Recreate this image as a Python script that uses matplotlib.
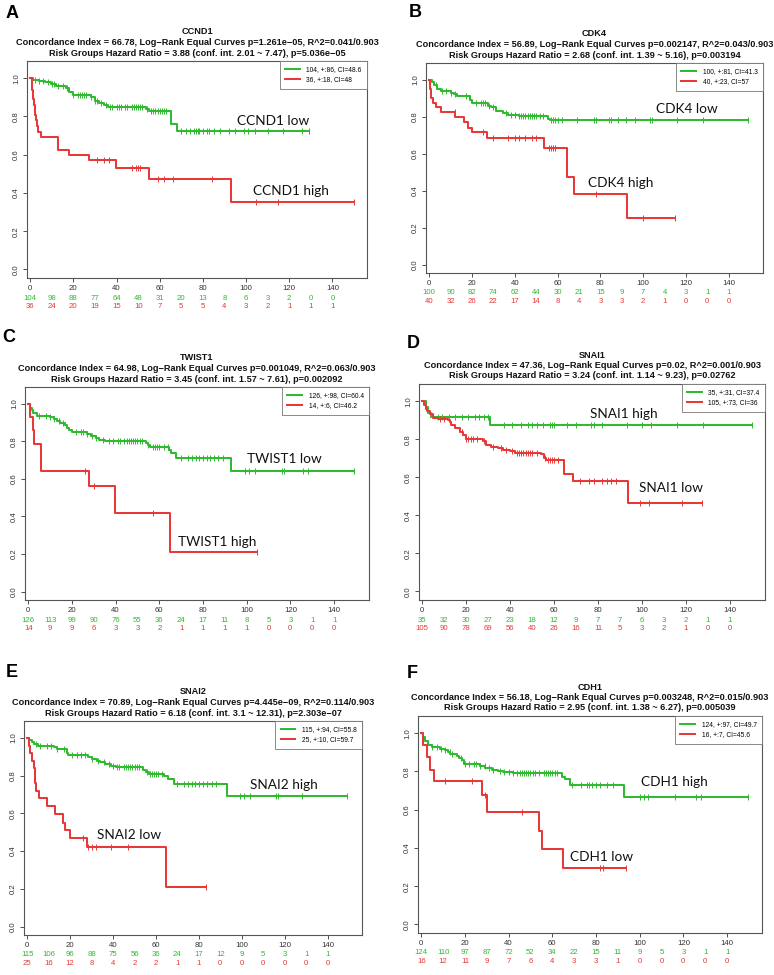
import matplotlib
matplotlib.use("Agg")
import matplotlib.pyplot as plt
import numpy as np

plt.rcParams['font.family'] = ['Liberation Sans', 'DejaVu Sans']

W, H = 774, 975
GREEN = '#2fba2f'
RED = '#e83838'

# ---- data ----
genes = ['CCND1', 'CDK4', 'TWIST1', 'SNAI1', 'SNAI2', 'CDH1']
panel_letters = ['A', 'B', 'C', 'D', 'E', 'F']

stat_lines = [
    ('Concordance Index = 66.78, Log\u2212Rank Equal Curves p=1.261e\u221205, R^2=0.041/0.903',
     'Risk Groups Hazard Ratio = 3.88 (conf. int. 2.01 ~ 7.47), p=5.036e\u221205'),
    ('Concordance Index = 56.89, Log\u2212Rank Equal Curves p=0.002147, R^2=0.043/0.903',
     'Risk Groups Hazard Ratio = 2.68 (conf. int. 1.39 ~ 5.16), p=0.003194'),
    ('Concordance Index = 64.98, Log\u2212Rank Equal Curves p=0.001049, R^2=0.063/0.903',
     'Risk Groups Hazard Ratio = 3.45 (conf. int. 1.57 ~ 7.61), p=0.002092'),
    ('Concordance Index = 47.36, Log\u2212Rank Equal Curves p=0.02, R^2=0.001/0.903',
     'Risk Groups Hazard Ratio = 3.24 (conf. int. 1.14 ~ 9.23), p=0.02762'),
    ('Concordance Index = 70.89, Log\u2212Rank Equal Curves p=4.445e\u221209, R^2=0.114/0.903',
     'Risk Groups Hazard Ratio = 6.18 (conf. int. 3.1 ~ 12.31), p=2.303e\u221207'),
    ('Concordance Index = 56.18, Log\u2212Rank Equal Curves p=0.003248, R^2=0.015/0.903',
     'Risk Groups Hazard Ratio = 2.95 (conf. int. 1.38 ~ 6.27), p=0.005039'),
]

legend_green = ['104, +:86, CI=48.6', '100, +:81, CI=41.3', '126, +:98, CI=60.4',
                '35, +:31, CI=37.4', '115, +:94, CI=55.8', '124, +:97, CI=49.7']
legend_red = ['36, +:18, CI=48', '40, +:23, CI=57', '14, +:6, CI=46.2',
              '105, +:73, CI=36', '25, +:10, CI=59.7', '16, +:7, CI=45.6']

green_labels = ['CCND1 low', 'CDK4 low', 'TWIST1 low', 'SNAI1 high', 'SNAI2 high', 'CDH1 high']
red_labels = ['CCND1 high', 'CDK4 high', 'TWIST1 high', 'SNAI1 low', 'SNAI2 low', 'CDH1 low']

risk_times = [0, 10, 20, 30, 40, 50, 60, 70, 80, 90, 100, 110, 120, 130, 140]
risk_green = [
    [104, 98, 88, 77, 64, 48, 31, 20, 13, 8, 6, 3, 2, 0, 0],
    [100, 90, 82, 74, 62, 44, 30, 21, 15, 9, 7, 4, 3, 1, 1],
    [126, 113, 99, 90, 76, 55, 36, 24, 17, 11, 8, 5, 3, 1, 1],
    [35, 32, 30, 27, 23, 18, 12, 9, 7, 7, 6, 3, 2, 1, 1],
    [115, 106, 96, 88, 75, 56, 36, 24, 17, 12, 9, 5, 3, 1, 1],
    [124, 110, 97, 87, 72, 52, 34, 22, 15, 11, 9, 5, 3, 1, 1],
]
risk_red = [
    [36, 24, 20, 19, 15, 10, 7, 5, 5, 4, 3, 2, 1, 1, 1],
    [40, 32, 26, 22, 17, 14, 8, 4, 3, 3, 2, 1, 0, 0, 0],
    [14, 9, 9, 6, 3, 3, 2, 1, 1, 1, 1, 0, 0, 0, 0],
    [105, 90, 78, 69, 56, 40, 26, 16, 11, 5, 3, 2, 1, 0, 0],
    [25, 16, 12, 8, 4, 2, 2, 1, 1, 0, 0, 0, 0, 0, 0],
    [16, 12, 11, 9, 7, 6, 4, 3, 3, 1, 0, 0, 0, 0, 0],
]

# survival curves: event times, survival after each event, censor times
a_green_t = [1.5, 4, 7, 9.6, 12, 16.5, 18, 19.6, 28, 30, 32, 34, 36, 53.5, 55, 65, 68]
a_green_s = [0.99, 0.985, 0.98, 0.97, 0.96, 0.95, 0.93, 0.91, 0.90, 0.88, 0.87, 0.86, 0.85, 0.84, 0.83, 0.76, 0.725]
a_green_c = [2, 4, 6, 8, 10, 11, 13, 15, 17, 20, 22, 23, 24, 25, 26, 28, 30, 31, 33, 35, 37, 38, 40, 41, 42, 44,
             45, 47, 48, 49, 50, 51, 52, 54, 56, 57, 58, 59, 60, 61, 62, 63, 70, 72, 74, 76, 77, 77.5, 78, 80, 82,
             83, 85, 88, 92, 95, 99, 101, 104, 110, 117, 126, 129]
a_red_t = [0.6, 1, 1.4, 1.9, 2.3, 2.6, 3.1, 3.7, 5, 12.7, 18, 27.3, 39.7, 55, 93]
a_red_s = [0.97, 0.94, 0.89, 0.86, 0.81, 0.78, 0.75, 0.72, 0.69, 0.625, 0.60, 0.57, 0.53, 0.475, 0.355]
a_red_c = [31, 34, 36.6, 47, 49, 50, 51, 59, 62, 66, 84, 104.5, 115, 150]

b_green_t = [1.5, 2.3, 3.5, 5.4, 10, 11.5, 13, 19, 20, 27.5, 29, 31.4, 34.4, 36.7, 42, 55.5, 56.3]
b_green_s = [0.99, 0.97, 0.95, 0.94, 0.93, 0.92, 0.91, 0.89, 0.875, 0.86, 0.85, 0.83, 0.82, 0.81, 0.805, 0.79, 0.78]
b_green_c = [3, 6, 8, 10, 12, 17, 22, 24, 25, 26, 28, 30, 36, 38, 40, 42, 43, 44, 45, 46, 47, 48, 49, 50, 52, 53,
             57, 58, 59, 60, 62, 69, 77, 78, 84, 85, 88, 92, 96, 103, 104, 116, 128, 149]
b_red_t = [0.5, 1, 1.8, 3.4, 5.4, 12.2, 16.4, 18, 20, 26.8, 53.5, 64.3, 67.8, 92.6]
b_red_s = [0.95, 0.90, 0.875, 0.85, 0.825, 0.80, 0.77, 0.74, 0.715, 0.685, 0.63, 0.475, 0.38, 0.25]
b_red_c = [12, 25, 30, 37, 40, 42, 45, 48, 50, 56, 57, 58, 59, 78, 100, 115]

c_green_t = [1, 1.5, 2.3, 3.9, 10, 11.6, 13.2, 14.7, 17, 17.8, 18.6, 20, 27, 28.7, 31, 32.5, 35, 54, 55, 55.8,
             64.3, 65.4, 67.8, 92.7]
c_green_s = [0.98, 0.97, 0.95, 0.935, 0.93, 0.92, 0.91, 0.90, 0.89, 0.87, 0.86, 0.85, 0.84, 0.83, 0.82, 0.81,
             0.80, 0.79, 0.78, 0.77, 0.755, 0.74, 0.71, 0.645]
c_green_c = [5, 8, 10, 12, 14, 16, 22, 24, 25, 27, 29, 31, 34, 37, 39, 41, 42, 44, 45, 46, 47, 48, 49, 50, 51, 52,
             55, 57, 58, 59, 60, 62, 64, 70, 73, 75, 77, 78, 80, 82, 83, 85, 87, 89, 99, 101, 104, 116, 117, 126,
             128, 149]
c_red_t = [1, 2.2, 2.6, 5.7, 27.6, 39.5, 64.8]
c_red_s = [0.93, 0.86, 0.785, 0.64, 0.565, 0.42, 0.21]
c_red_c = [26, 30, 57, 104.6]

d_green_t = [1.5, 2.6, 3.8, 30.6]
d_green_s = [0.97, 0.94, 0.915, 0.875]
d_green_c = [7, 9, 12, 15, 18, 21, 24, 26, 28, 30, 37, 41, 45, 48, 50, 52, 55, 58, 59, 60, 66, 70, 77, 78, 82,
             93, 100, 104, 116, 128, 150]
d_red_t = [0.6, 1.5, 2.1, 3.3, 4.8, 7, 11.7, 12.4, 13.2, 14.7, 17.3, 18.5, 19.7, 27.6, 29, 31.4, 34.4, 36.7,
           39.7, 42.4, 54, 55.3, 56.4, 64.7, 68.5, 93.8]
d_red_s = [0.98, 0.96, 0.95, 0.93, 0.91, 0.905, 0.90, 0.89, 0.875, 0.86, 0.84, 0.82, 0.80, 0.79, 0.77, 0.76,
           0.755, 0.745, 0.74, 0.73, 0.72, 0.70, 0.69, 0.615, 0.58, 0.465]
d_red_c = [8, 10, 18, 20, 21, 22, 23, 25, 28, 32, 36, 38, 41, 43, 44, 45, 46, 47, 48, 49, 50, 52, 56, 57, 58, 59,
           60, 62, 72, 76, 78, 82, 84, 86, 88, 99, 103, 118, 127.5]

e_green_t = [0.8, 2, 3, 5, 12.3, 13.8, 18.5, 19.2, 28.5, 30, 32.3, 33.8, 36.2, 39.2, 41.5, 53.8, 55.4, 56.9,
             63.8, 65.4, 68.5, 93]
e_green_s = [0.99, 0.98, 0.97, 0.96, 0.95, 0.94, 0.92, 0.91, 0.90, 0.89, 0.88, 0.87, 0.86, 0.85, 0.845, 0.83,
             0.82, 0.81, 0.80, 0.78, 0.755, 0.69]
e_green_c = [4, 6, 9, 11, 14, 17, 21, 23, 25, 27, 30, 33, 36, 38, 40, 42, 43, 45, 46, 47, 48, 49, 50, 51, 52, 56,
             57, 58, 59, 60, 61, 63, 70, 73, 75, 77, 78, 80, 82, 84, 86, 88, 99, 101, 104, 116, 117, 128, 149]
e_red_t = [0.8, 1.5, 2.3, 3.1, 3.4, 3.8, 4.2, 5.7, 9.2, 13, 16.6, 17.7, 20, 28, 64.6]
e_red_s = [0.96, 0.92, 0.88, 0.84, 0.80, 0.76, 0.72, 0.68, 0.64, 0.595, 0.55, 0.51, 0.47, 0.42, 0.21]
e_red_c = [26, 28.5, 30, 32, 39, 47, 83.4]

f_green_t = [1, 1.8, 3, 4.9, 8.7, 11, 12.1, 13.2, 16.2, 17.3, 18.5, 19.6, 26.9, 29.1, 32.5, 35.2, 37.5, 42,
             64.5, 65.6, 68.3, 92.6]
f_green_s = [0.98, 0.96, 0.94, 0.93, 0.92, 0.91, 0.90, 0.89, 0.88, 0.87, 0.86, 0.84, 0.83, 0.82, 0.81, 0.80,
             0.795, 0.79, 0.77, 0.76, 0.73, 0.665]
f_green_c = [5, 7, 9, 11, 13, 14, 18, 20, 22, 24, 25, 27, 29, 31, 33, 36, 38, 40, 42, 44, 45, 46, 47, 48, 49, 50,
             51, 52, 54, 56, 57, 58, 59, 60, 61, 62, 69, 73, 76, 77, 78, 80, 82, 85, 88, 100, 102, 104, 116, 126,
             128, 149.6]
f_red_t = [0.6, 2.6, 4.1, 5.6, 28, 30.2, 53.9, 55.3, 64.8]
f_red_s = [0.94, 0.875, 0.81, 0.75, 0.675, 0.59, 0.49, 0.395, 0.295]
f_red_c = [11, 23, 29, 46, 82, 83, 93.7]

green_curves = [(a_green_t, a_green_s, a_green_c), (b_green_t, b_green_s, b_green_c),
                (c_green_t, c_green_s, c_green_c), (d_green_t, d_green_s, d_green_c),
                (e_green_t, e_green_s, e_green_c), (f_green_t, f_green_s, f_green_c)]
red_curves = [(a_red_t, a_red_s, a_red_c), (b_red_t, b_red_s, b_red_c),
              (c_red_t, c_red_s, c_red_c), (d_red_t, d_red_s, d_red_c),
              (e_red_t, e_red_s, e_red_c), (f_red_t, f_red_s, f_red_c)]

# label positions for the big curve names (data coords)
green_label_xy = [(96, 0.777), (106, 0.84), (100, 0.707), (76.5, 0.933), (103.8, 0.75), (100.5, 0.746)]
red_label_xy = [(103, 0.41), (74, 0.44), (68.5, 0.265), (98.8, 0.544), (32.3, 0.486), (67.9, 0.351)]

# ---- layout (pixel boxes: left, top, right, bottom) ----
boxes = [(27, 61, 367, 278), (426, 63, 763, 273),
         (25, 387, 369, 600), (419, 384, 765, 600),
         (24, 721, 362, 935), (418, 716, 762, 933)]
letter_pos = [(12, 14), (415, 12.5), (9, 337.5), (413, 343.5), (12, 672.5), (412, 673.5)]

fig = plt.figure(figsize=(W / 100, H / 100), dpi=100)


def km_plot(ax, t, s, cens, color, label):
    end = max(max(cens), t[-1])
    tt = np.array([0] + list(t) + [end])
    ss = np.array([1.0] + list(s) + [s[-1]])
    ax.plot(tt, ss, drawstyle='steps-post', color=color, lw=1.45, label=label)
    cens = np.array(cens)
    idx = np.searchsorted(tt, cens, side='right') - 1
    ax.plot(cens, ss[idx], ls='none', marker='|', ms=4.2, mew=0.7, color=color)


for i in range(6):
    x0, y0, x1, y1 = boxes[i]
    ax = fig.add_axes([x0 / W, 1 - y1 / H, (x1 - x0) / W, (y1 - y0) / H])
    gt, gs, gc = green_curves[i]
    rt, rs, rc = red_curves[i]
    km_plot(ax, gt, gs, gc, GREEN, legend_green[i])
    km_plot(ax, rt, rs, rc, RED, legend_red[i])

    ax.set_xlim(-1.5, 156)
    ax.set_ylim(-0.045, 1.09)
    ax.set_xticks(range(0, 141, 20))
    ax.set_yticks([0, 0.2, 0.4, 0.6, 0.8, 1.0])
    ax.set_yticklabels(['0.0', '0.2', '0.4', '0.6', '0.8', '1.0'], rotation=90, va='center')
    ax.tick_params(labelsize=5.6, length=3, width=0.6, pad=2, colors='#333333')
    for sp in ax.spines.values():
        sp.set_color('#555555')
        sp.set_linewidth(0.8)

    leg = ax.legend(loc='upper right', borderaxespad=0, fontsize=4.8, handlelength=2.2,
                    fancybox=False, framealpha=1, edgecolor='#777777', borderpad=0.8,
                    labelspacing=0.45, handletextpad=1.0)
    leg.get_frame().set_linewidth(0.6)

    # titles
    title_kw = dict(xy=(0.5, 1), xycoords='axes fraction', textcoords='offset pixels',
                    ha='center', va='center', fontsize=6.6, fontweight='bold', color='#111111')
    ax.annotate(genes[i], xytext=(0, 29), **title_kw)
    ax.annotate(stat_lines[i][0], xytext=(0, 18.5), **title_kw)
    ax.annotate(stat_lines[i][1], xytext=(0, 8), **title_kw)

    # number at risk
    for t, ng, nr in zip(risk_times, risk_green[i], risk_red[i]):
        ax.annotate(str(ng), xy=(t, 0), xycoords=('data', 'axes fraction'), xytext=(0, -20),
                    textcoords='offset pixels', ha='center', va='center', fontsize=5.6, color=GREEN)
        ax.annotate(str(nr), xy=(t, 0), xycoords=('data', 'axes fraction'), xytext=(0, -28.5),
                    textcoords='offset pixels', ha='center', va='center', fontsize=5.6, color=RED)

    # curve names
    ax.text(green_label_xy[i][0], green_label_xy[i][1], green_labels[i], fontsize=9.8,
            family=['Lato', 'DejaVu Sans'], ha='left', va='center', color='#111111')
    ax.text(red_label_xy[i][0], red_label_xy[i][1], red_labels[i], fontsize=9.8,
            family=['Lato', 'DejaVu Sans'], ha='left', va='center', color='#111111')

    lx, ly = letter_pos[i]
    fig.text(lx / W, 1 - ly / H, panel_letters[i], fontsize=13, fontweight='bold',
             ha='center', va='center')

fig.savefig('out.png', dpi=100)
